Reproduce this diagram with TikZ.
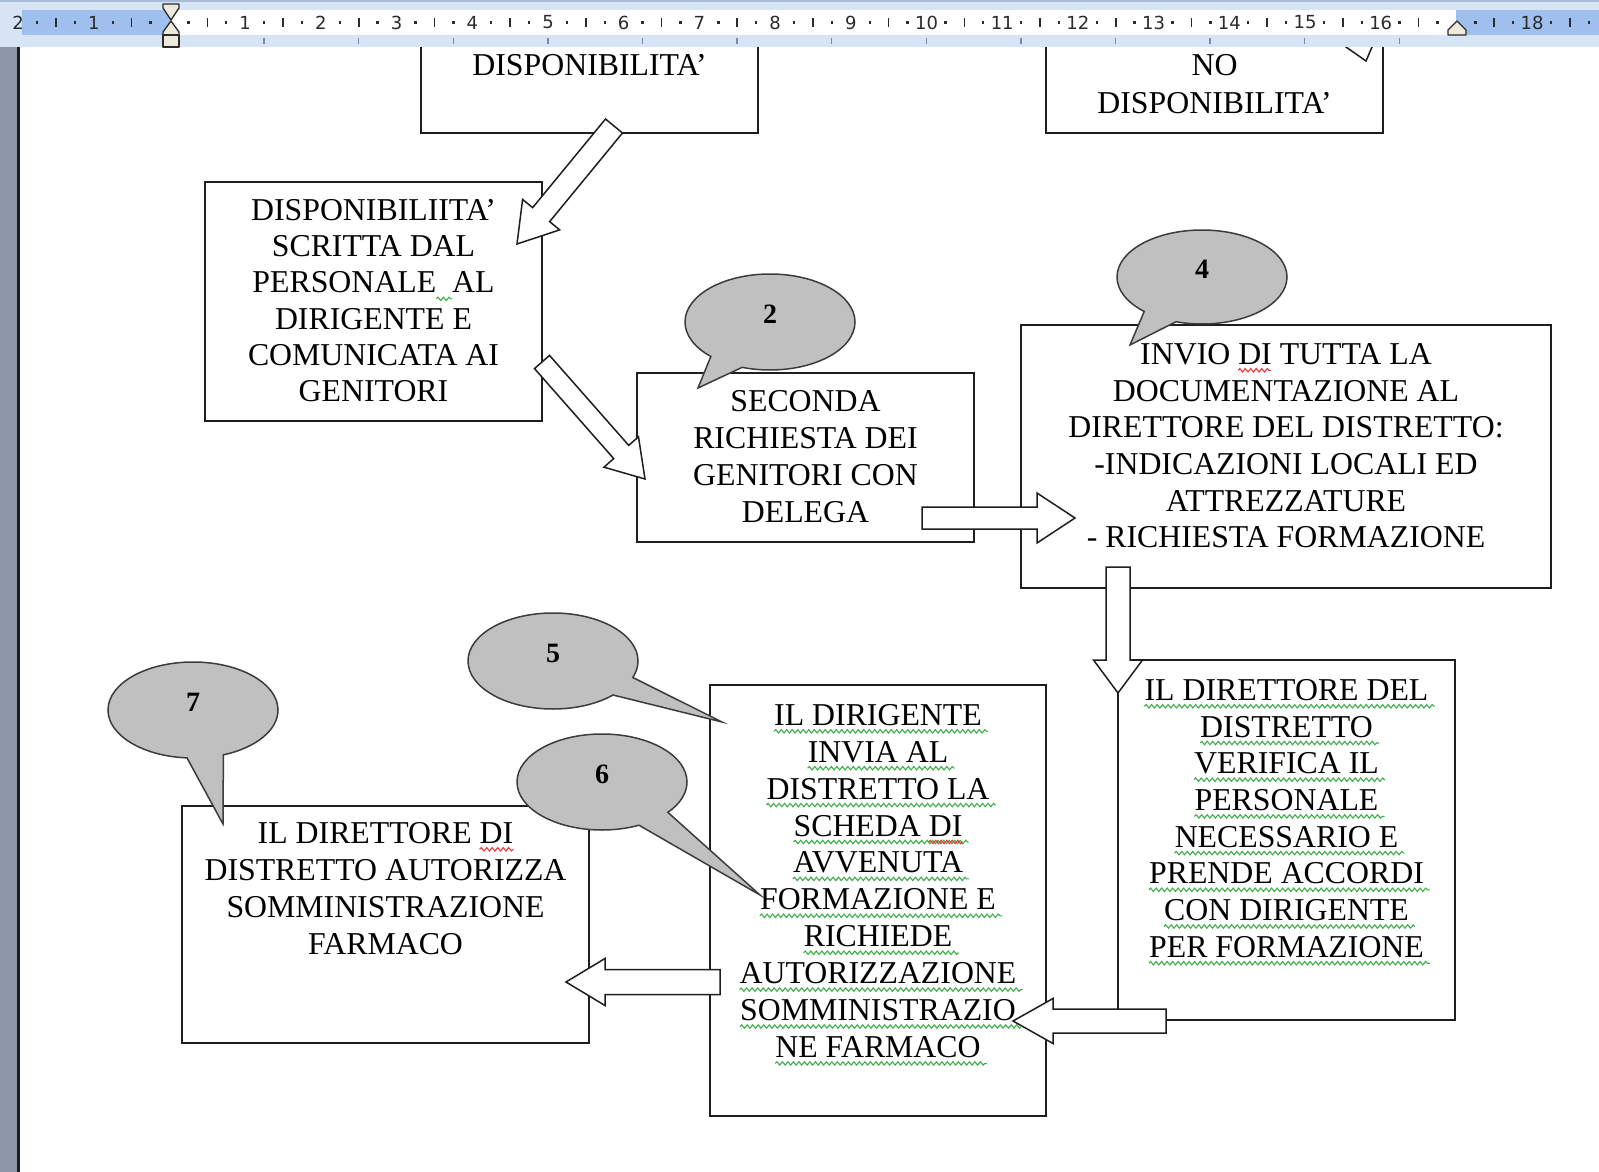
\documentclass[tikz,border=0pt]{standalone}
\usepackage{fontspec}
\setmainfont{Liberation Serif}
\newfontfamily\rulerfont{DejaVu Sans}
\usetikzlibrary{positioning,calc,shapes.callouts,decorations.pathmorphing}

\definecolor{boxline}{HTML}{1E1E1E}
\definecolor{bubblefill}{HTML}{C0C0C0}
\definecolor{bubbleline}{HTML}{3C3C3C}
\definecolor{spellgreen}{HTML}{3FAE49}
\definecolor{spellred}{HTML}{E8383D}
\definecolor{rulerband}{HTML}{D7E4F6}
\definecolor{rulertop}{HTML}{A9BBD6}
\definecolor{rulermargin}{HTML}{9FBFEF}
\definecolor{rulerink}{HTML}{2B2B2B}
\definecolor{tabtick}{HTML}{7C8AA0}
\definecolor{markerfill}{HTML}{EEEADB}
\definecolor{sidebar}{HTML}{8E97A9}

\tikzset{
  box/.style={draw=boxline, line width=1.6pt, inner sep=0pt},
  line/.style={anchor=base, inner sep=0pt, font=\fontsize{31.8}{36.6}\selectfont},
  gwave/.style={draw=spellgreen, line width=1.1pt, decorate,
    decoration={snake, segment length=5.5pt, amplitude=1.7pt}},
  rwave/.style={gwave, draw=spellred},
  bubble/.style={ellipse callout, draw=bubbleline, fill=bubblefill, line width=1.5pt,
    minimum width=170pt, minimum height=96pt, inner sep=0pt, callout pointer arc=25,
    text depth=16pt, font=\fontsize{28}{28}\selectfont\bfseries},
  fatline/.style={draw=boxline, fill=white, line width=1.5pt, line join=miter},
  rulernum/.style={inner sep=0pt, text=rulerink, font=\rulerfont\fontsize{18}{18}\selectfont},
  marker/.style={draw=rulerink, fill=markerfill, line width=1.3pt, line join=round}
}

% block arrow: start, tip, shaft half width, head half width, head length
\newcommand{\fatarrow}[5]{%
  \path ($(#2)!#5!(#1)$) coordinate (fa-base);
  \draw[fatline] ($(#1)!#3!90:(#2)$) -- ($(fa-base)!#3!90:(#2)$)
    -- ($(fa-base)!#4!90:(#2)$) -- (#2) -- ($(fa-base)!#4!-90:(#2)$)
    -- ($(fa-base)!#3!-90:(#2)$) -- ($(#1)!#3!-90:(#2)$) -- cycle;
}

\begin{document}
\begin{tikzpicture}[x=1pt,y=-1pt]
    \useasboundingbox (0,0) rectangle (1599,1172);

    % caselle
    \node[box, minimum width=337pt, minimum height=113pt] (A) at (589.5,76.5) {};
    \node[box, minimum width=337pt, minimum height=113pt] (B) at (1214.5,76.5) {};
    \node[box, minimum width=337pt, minimum height=239pt] (C) at (373.5,301.5) {};
    \node[box, minimum width=337pt, minimum height=169pt] (D) at (805.5,457.5) {};
    \node[box, minimum width=530pt, minimum height=263pt] (E) at (1286,456.5) {};
    \node[box, minimum width=337pt, minimum height=360pt] (F) at (1286.5,840) {};
    \node[box, minimum width=336pt, minimum height=431pt] (G) at (878,900.5) {};
    \node[box, minimum width=407pt, minimum height=237pt] (H) at (385.5,924.5) {};

    % frecce
    \draw[fatline, fill=none] (1336,40) -- (1366,61) -- (1375,40);
    \coordinate (s1) at (614,126);   \coordinate (t1) at (517,244);
    \coordinate (s2) at (542,362);   \coordinate (t2) at (645,479);
    \coordinate (s3) at (922,518);   \coordinate (t3) at (1075,518);
    \coordinate (s4) at (1118,567);  \coordinate (t4) at (1118,693);
    \coordinate (s5) at (1166,1021); \coordinate (t5) at (1013,1021);
    \coordinate (s6) at (720,982);   \coordinate (t6) at (566,982);
    \fatarrow{s1}{t1}{11pt}{24pt}{38pt}
    \fatarrow{s2}{t2}{10pt}{23pt}{36pt}
    \fatarrow{s3}{t3}{11pt}{25pt}{38pt}
    \fatarrow{s4}{t4}{12pt}{24.5pt}{33pt}
    \fatarrow{s5}{t5}{12pt}{22.5pt}{40pt}
    \fatarrow{s6}{t6}{12.5pt}{23.5pt}{39pt}

    % fumetti
    \node[bubble, callout absolute pointer={(698,388)}] (N2) at (770,322) {2};
    \node[bubble, minimum height=94pt, callout absolute pointer={(1130,345)}] (N4) at (1202,277) {4};
    \node[bubble, callout absolute pointer={(722,722)}] (N5) at (553,661) {5};
    \node[bubble, callout absolute pointer={(760,895)}] (N6) at (602,782) {6};
    \node[bubble, callout absolute pointer={(223,824)}] (N7) at (193,710) {7};

    % testi
    \node[line] (a1) at (589.5,75.3) {DISPONIBILITA’};
    \foreach \t [count=\n] in {NO, DISPONIBILITA’}
      \node[line] (b\n) at (1214.5,{75.3+38*(\n-1)}) {\t};
    \foreach \t [count=\n] in {DISPONIBILIITA’, SCRITTA DAL, PERSONALE\ \ AL,
        DIRIGENTE E, COMUNICATA AI, GENITORI}
      \node[line] (c\n) at (373.5,{220.3+36.3*(\n-1)}) {\t};
    \draw[gwave] ([xshift=184pt,yshift=-6pt]c3.base west) -- ([xshift=200pt,yshift=-6pt]c3.base west);
    \foreach \t [count=\n] in {SECONDA, RICHIESTA DEI, GENITORI CON, DELEGA}
      \node[line] (d\n) at (805.5,{411.3+37.1*(\n-1)}) {\t};
    \foreach \t [count=\n] in {INVIO DI TUTTA LA, DOCUMENTAZIONE AL, DIRETTORE DEL DISTRETTO:,
        -INDICAZIONI LOCALI ED, ATTREZZATURE, - RICHIESTA FORMAZIONE}
      \node[line] (e\n) at (1286,{364.3+36.7*(\n-1)}) {\t};
    \draw[rwave] ([xshift=98pt,yshift=-6pt]e1.base west) -- ([xshift=131pt,yshift=-6pt]e1.base west);
    \foreach \t [count=\n] in {IL DIRETTORE DEL, DISTRETTO, VERIFICA IL, PERSONALE,
        NECESSARIO E, PRENDE ACCORDI, CON DIRIGENTE, PER FORMAZIONE}{
      \node[line] (f\n) at (1286.5,{700.3+36.7*(\n-1)}) {\t};
      \draw[gwave] ([yshift=-6pt]f\n.base west) -- ([xshift=6pt,yshift=-6pt]f\n.base east);
    }
    \foreach \t [count=\n] in {IL DIRIGENTE, INVIA AL, DISTRETTO LA, SCHEDA DI, AVVENUTA,
        FORMAZIONE E, RICHIEDE, AUTORIZZAZIONE, SOMMINISTRAZIO, NE FARMACO}{
      \node[line] (g\n) at (878,{725.3+36.9*(\n-1)}) {\t};
      \draw[gwave] ([yshift=-6pt]g\n.base west) -- ([xshift=6pt,yshift=-6pt]g\n.base east);
    }
    \draw[rwave] ([xshift=-34pt,yshift=-6pt]g4.base east) -- ([yshift=-6pt]g4.base east);
    \foreach \t [count=\n] in {IL DIRETTORE DI, DISTRETTO AUTORIZZA, SOMMINISTRAZIONE, FARMACO}
      \node[line] (h\n) at (385.5,{843.3+37*(\n-1)}) {\t};
    \draw[rwave] ([xshift=-34pt,yshift=-6pt]h1.base east) -- ([yshift=-6pt]h1.base east);

    % righello
    \fill[rulerband] (0,0) rectangle (1599,47);
    \fill[rulertop] (0,0) rectangle (1599,2);
    \fill[white] (170,10) rectangle (1456,35);
    \fill[rulermargin] (22,10) rectangle (170,35);
    \fill[rulermargin] (1456,10) rectangle (1599,35);
    \foreach \q in {-7,...,75}{
      \pgfmathtruncatemacro\r{mod(\q+100,4)}
      \ifnum\r=2
        \draw[rulerink, line width=1.6pt] ({169.5+18.925*\q},18) -- ({169.5+18.925*\q},27);
      \else\ifnum\r=0\else
        \fill[rulerink] ({169.5+18.925*\q-1.2},21.3) rectangle ++(2.4,2.4);
      \fi\fi
    }
    \foreach \i in {1,...,16,18}
      \node[rulernum] (r\i) at ({169.5+75.7*\i},22.5) {\i};
    \foreach \i in {1,2}
      \node[rulernum] (l\i) at ({169.5-75.7*\i},22.5) {\i};
    \foreach \k in {1,...,13}
      \draw[tabtick, line width=1.5pt] ({169.5+94.6*\k},38) -- ++(0,6);
    \draw[marker] (163,4) -- (179,4) -- (179,8) -- (171,20) -- (163,8) -- cycle;
    \draw[marker] (171,21) -- (179,32) -- (179,35) -- (163,35) -- (163,32) -- cycle;
    \draw[marker] (163,35) rectangle (179,47);
    \draw[marker] (1448,35) -- (1448,30) -- (1457,21) -- (1466,30) -- (1466,35) -- cycle;

    % bordo sinistro
    \fill[sidebar] (0,47) rectangle (17,1172);
    \fill[boxline] (17,47) rectangle (20,1172);
  \end{tikzpicture}
\end{document}
